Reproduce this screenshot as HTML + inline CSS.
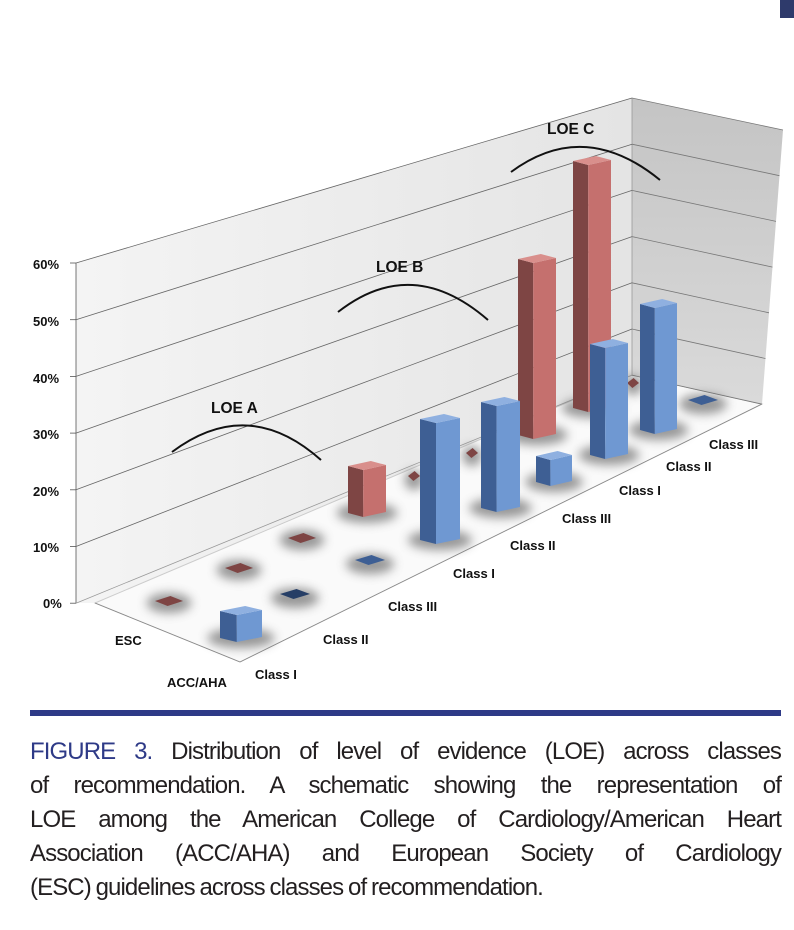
<!DOCTYPE html>
<html><head><meta charset="utf-8"><style>
body{margin:0;background:#fff;width:794px;height:930px;overflow:hidden;position:relative;font-family:"Liberation Sans",sans-serif}
.cap{position:absolute;left:30px;width:751px;font-size:24px;color:#231f20;line-height:34px;top:735px;letter-spacing:-0.9px;word-spacing:-1px}
.cap div{text-align:justify;text-align-last:justify;white-space:nowrap;height:34px}
.cap div.l{text-align-last:left}
.fig{color:#2e3a87}
</style></head><body>
<div style="position:absolute;left:780px;top:0;width:14px;height:18px;background:#2e3a6b"></div>
<svg id="s" width="794" height="710" style="position:absolute;left:0;top:0" font-family="Liberation Sans, sans-serif">
<defs>
<linearGradient id="bw" x1="0" y1="0" x2="1" y2="0"><stop offset="0" stop-color="#f4f4f4"/><stop offset="1" stop-color="#e4e4e4"/></linearGradient>
<linearGradient id="sw" x1="0" y1="0" x2="0" y2="1"><stop offset="0" stop-color="#c4c4c4"/><stop offset="1" stop-color="#dadada"/></linearGradient>
<filter id="bl" x="-50%" y="-50%" width="200%" height="200%"><feGaussianBlur stdDeviation="5"/></filter>
</defs>
<polygon points="76,263 632,98 632,375 95,603 76,603" fill="url(#bw)"/>
<polygon points="632,98 783,130 762,404 632,375" fill="url(#sw)"/>
<polygon points="95,603 240,662 762,404 632,375" fill="#fafafa" stroke="#ccc" stroke-width="1"/>
<g id="grid" stroke="#555" stroke-width="0.8" fill="none"></g>
<g id="shadows" filter="url(#bl)" fill="#777" opacity="0.75"></g>
<g id="bars"></g>
<g font-weight="bold" font-size="13" fill="#111">
<text x="33" y="269">60%</text><text x="33" y="326">50%</text><text x="33" y="383">40%</text><text x="33" y="439">30%</text><text x="33" y="496">20%</text><text x="33" y="552">10%</text><text x="43" y="608">0%</text>
<text x="115" y="645">ESC</text><text x="167" y="687">ACC/AHA</text>
<text x="255" y="679">Class I</text><text x="323" y="644">Class II</text><text x="388" y="611">Class III</text>
<text x="453" y="578">Class I</text><text x="510" y="550">Class II</text><text x="562" y="523">Class III</text>
<text x="619" y="495">Class I</text><text x="666" y="471">Class II</text><text x="709" y="449">Class III</text>
</g>
<g font-weight="bold" font-size="15.5" fill="#111">
<text x="211" y="413">LOE A</text><text x="376" y="272">LOE B</text><text x="547" y="134">LOE C</text>
</g>
<g stroke="#111" stroke-width="2" fill="none">
<path d="M172,452 Q248,395 321,460"/>
<path d="M338,312 Q412,254 488,320"/>
<path d="M511,172 Q584,118 660,180"/>
</g>
</svg>
<div style="position:absolute;left:30px;top:710px;width:751px;height:6px;background:#2e3a87"></div>
<div class="cap">
<div><span class="fig">FIGURE 3.</span> Distribution of level of evidence (LOE) across classes</div>
<div>of recommendation. A schematic showing the representation of</div>
<div>LOE among the American College of Cardiology/American Heart</div>
<div>Association (ACC/AHA) and European Society of Cardiology</div>
<div class="l">(ESC) guidelines across classes of recommendation.</div>
</div>
<script>
var NS="http://www.w3.org/2000/svg";
function el(p,t,a){var e=document.createElementNS(NS,t);for(var k in a)e.setAttribute(k,a[k]);p.appendChild(e);return e;}
var g=document.getElementById('grid');
el(g,'line',{x1:76,y1:263,x2:76,y2:603});
el(g,'line',{x1:632,y1:98,x2:632,y2:375,stroke:'#999'});
for(var k=0;k<7;k++){
 var yl=263+k*56.7, yr=98+k*46.2, ys=130+k*45.7, xs=783-k*3.5;
 el(g,'line',{x1:76,y1:yl,x2:632,y2:yr,stroke:k==6?'#999':'#666'});
 el(g,'line',{x1:632,y1:yr,x2:xs,y2:ys,stroke:'#777'});
 el(g,'line',{x1:70,y1:yl,x2:76,y2:yl});
}
el(g,'line',{x1:95,y1:603,x2:240,y2:662,stroke:'#888'});
el(g,'line',{x1:240,y1:662,x2:762,y2:404,stroke:'#888'});
var sh=document.getElementById('shadows'),b=document.getElementById('bars');
var data=[
[155,28,597,603,'r'],[225,28,564,570,'r'],[288,28,534,540,'r'],
[348,38,462,513,'r'],[408,12,472,480,'r'],[466,12,449,456,'r'],
[518,38,255,435,'r'],[573,38,157,408,'r'],[627,12,379,385,'r'],
[220,42,607,638,'b'],[280,30,590,598,'d'],[355,30,556,564,'b'],
[420,40,415,540,'b'],[481,39,398,508,'b'],[536,36,452,482,'b'],
[590,38,340,455,'b'],[640,37,300,430,'b'],[688,30,396,404,'b']
];
var cols={r:['#7e4544','#c5706e','#d98f8c'],b:['#3e5f94','#6f98d2','#8fb0e0'],d:['#263e66','#2f4d7c','#3c5d90']};
data.forEach(function(d){var x=d[0],w=d[1],t=d[2],bt=d[3];
 el(sh,'ellipse',{cx:x+w/2,cy:bt,rx:w*0.8,ry:10});});
data.forEach(function(d){var x=d[0],w=d[1],t=d[2],bt=d[3],c=cols[d[4]];
 var a=w*0.4,h=bt-t;
 if(h>10){
  el(b,'polygon',{points:[x,t+4,x+a,t+8,x+a,bt+4,x,bt].join(','),fill:c[0]});
  el(b,'polygon',{points:[x+a,t+8,x+w,t+3,x+w,bt-1,x+a,bt+4].join(','),fill:c[1]});
  el(b,'polygon',{points:[x,t+4,x+w*0.6,t-1,x+w,t+3,x+a,t+8].join(','),fill:c[2]});
 } else {
  el(b,'polygon',{points:[x,t+4,x+w*0.55,t-1,x+w,t+4,x+w*0.45,t+9].join(','),fill:c[0]});
 }
});
</script>
</body></html>
